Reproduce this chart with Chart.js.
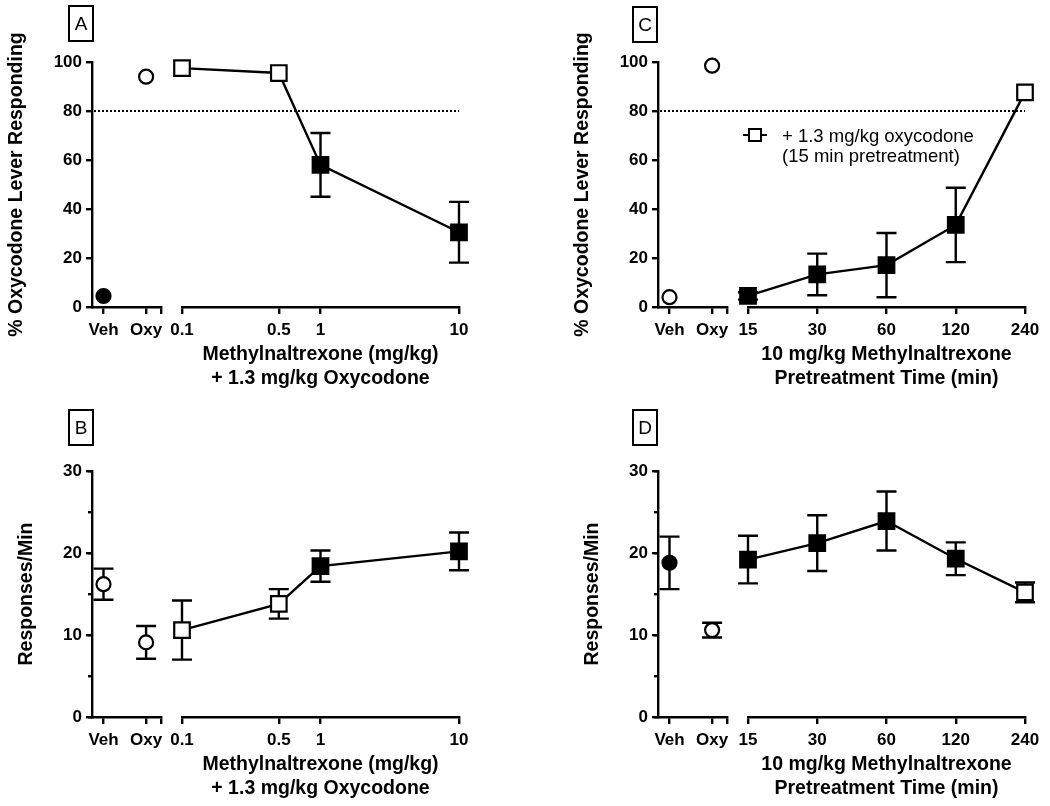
<!DOCTYPE html>
<html>
<head>
<meta charset="utf-8">
<script src="https://cdn.jsdelivr.net/npm/chart.js@4/dist/chart.umd.min.js"></script>
<style>
  body { margin: 0; background: #fff; }
  #wrap { position: relative; width: 1050px; height: 806px; background: #fff; font-family: 'Liberation Sans', Arial, sans-serif; }
  canvas { position: absolute; }
  .tag { position: absolute; box-sizing: border-box; border: 2px solid #000; width: 26px; height: 37px;
         font-size: 19px; line-height: 33px; text-align: center; color: #000; }
  .leg { position: absolute; font-size: 18.5px; line-height: 20px; color: #000; }
</style>
</head>
<body>
<div id="wrap">
  <canvas id="panelA" width="525" height="400" style="left:0;top:0"></canvas>
  <canvas id="panelB" width="525" height="406" style="left:0;top:400px"></canvas>
  <canvas id="panelC" width="484" height="400" style="left:566px;top:0"></canvas>
  <canvas id="panelD" width="484" height="406" style="left:566px;top:400px"></canvas>

  <div class="tag" style="left:68px;top:5px">A</div>
  <div class="tag" style="left:68px;top:409px">B</div>
  <div class="tag" style="left:632px;top:6px">C</div>
  <div class="tag" style="left:632px;top:409px">D</div>

  <div style="position:absolute;left:743px;top:134px;width:24px;height:2px;background:#000"></div>
  <div style="position:absolute;left:748px;top:128px;width:14px;height:14px;box-sizing:border-box;border:2px solid #000;background:#fff"></div>
  <div class="leg" style="left:782px;top:126px">+ 1.3 mg/kg oxycodone<br>(15 min pretreatment)</div>
</div>

<script>
// categories / x values
var controlLabels = ['Veh', 'Oxy'];
var mntxDoses = [0.1, 0.5, 1, 10];          // mg/kg methylnaltrexone
var pretreatTimes = [15, 30, 60, 120, 240]; // min

// A: % oxycodone lever responding, dose
var aCtrlMean = [4.5, 94];
var aCtrlSem = [0, 0];
var aCtrlFilled = [true, false];
var aDoseMean = [97.5, 95.5, 58, 30.5];
var aDoseSem = [0, 0, 13, 12.4];
var aDoseFilled = [false, false, true, true];

// B: responses/min, dose
var bCtrlMean = [16.2, 9.1];
var bCtrlSem = [1.9, 2.0];
var bCtrlFilled = [false, false];
var bDoseMean = [10.6, 13.8, 18.4, 20.2];
var bDoseSem = [3.6, 1.8, 1.9, 2.3];
var bDoseFilled = [false, false, true, true];

// C: % oxycodone lever responding, pretreatment time
var cCtrlMean = [4, 98.5];
var cCtrlSem = [0, 0];
var cCtrlFilled = [false, false];
var cTimeMean = [4.5, 13.3, 17.1, 33.5, 87.6];
var cTimeSem = [1.5, 8.5, 13.1, 15.2, 0];
var cTimeFilled = [true, true, true, true, false];

// D: responses/min, pretreatment time
var dCtrlMean = [18.8, 10.6];
var dCtrlSem = [3.2, 0.9];
var dCtrlFilled = [true, false];
var dTimeMean = [19.2, 21.2, 23.9, 19.3, 15.2];
var dTimeSem = [2.9, 3.4, 3.6, 2.0, 1.2];
var dTimeFilled = [true, true, true, true, false];

var yTitleDisc = '% Oxycodone Lever Responding';
var yTitleRate = 'Responses/Min';
var xTitleDose = ['Methylnaltrexone (mg/kg)', '+ 1.3 mg/kg Oxycodone'];
var xTitleTime = ['10 mg/kg Methylnaltrexone', 'Pretreatment Time (min)'];

Chart.defaults.font.family = "'Liberation Sans', Arial, sans-serif";
Chart.defaults.color = '#000';

// error bars drawn under the markers, through the dataset's scales
var errorBars = {
  id: 'errorBars',
  beforeDatasetsDraw: function(chart) {
    var ctx = chart.ctx;
    chart.data.datasets.forEach(function(ds, di) {
      if (!ds.errors) return;
      var meta = chart.getDatasetMeta(di);
      var yScale = chart.scales[meta.yAxisID];
      ctx.save();
      ctx.strokeStyle = '#000';
      ctx.lineWidth = 2.4;
      meta.data.forEach(function(pt, i) {
        var e = ds.errors[i];
        if (!e) return;
        var v = ds.data[i].y;
        var top = yScale.getPixelForValue(v + e);
        var bot = yScale.getPixelForValue(v - e);
        ctx.beginPath();
        ctx.moveTo(pt.x, top); ctx.lineTo(pt.x, bot);
        ctx.moveTo(pt.x - 10, top); ctx.lineTo(pt.x + 10, top);
        ctx.moveTo(pt.x - 10, bot); ctx.lineTo(pt.x + 10, bot);
        ctx.stroke();
      });
      ctx.restore();
    });
  }
};

var refLine = {
  id: 'refLine',
  beforeDatasetsDraw: function(chart, args, opts) {
    if (opts.value == null) return;
    var ctx = chart.ctx;
    var y = chart.scales.y.getPixelForValue(opts.value);
    ctx.save();
    ctx.strokeStyle = '#000';
    ctx.lineWidth = 2;
    ctx.setLineDash([2, 2]);
    ctx.beginPath();
    ctx.moveTo(chart.chartArea.left + 2, y);
    ctx.lineTo(chart.chartArea.right, y);
    ctx.stroke();
    ctx.restore();
  }
};

function fills(arr) {
  return arr.map(function(f) { return f ? '#000' : '#fff'; });
}

var tickFont = { size: 17, weight: 'bold' };
var titleFont = { size: 19.5, weight: 'bold' };
var axisGrid = { display: true, drawOnChartArea: false, drawTicks: true, tickLength: 7, tickWidth: 2.4, tickColor: '#000', lineWidth: 2.4 };
var axisBorder = { display: true, color: '#000', width: 2.4 };

function buildPanel(id, p) {
  var scales = {
    y: {
      type: 'linear', position: 'left', weight: 1,
      min: 0, max: p.yMax,
      ticks: { stepSize: p.yStep, font: tickFont, color: '#000', padding: 4 },
      grid: Object.assign({}, axisGrid, { tickLength: 6 }),
      border: axisBorder,
      title: { display: true, text: p.yTitle, font: titleFont, color: '#000', padding: { top: 3, bottom: 0 } },
      afterFit: function(s) { s.width = p.yWidth; }
    },
    xl: {
      type: 'linear', position: 'bottom', stack: 'x', stackWeight: 69, weight: 1,
      min: -0.27, max: 1.35,
      afterBuildTicks: function(s) { s.ticks = [0, 1, 1.35].map(function(v) { return { value: v }; }); },
      ticks: { autoSkip: false, maxRotation: 0, minRotation: 0, font: tickFont, color: '#000', padding: 6,
               callback: function(v) { return controlLabels[v] || ''; } },
      grid: axisGrid,
      border: axisBorder,
      afterFit: function(s) { s.height = 85; }
    },
    xg: {
      type: 'linear', position: 'bottom', stack: 'x', stackWeight: 21, weight: 2,
      min: 0, max: 1,
      ticks: { display: false },
      grid: { display: false },
      border: { display: false },
      afterFit: function(s) { s.height = 85; }
    },
    xr: {
      type: 'logarithmic', position: 'bottom', stack: 'x', stackWeight: 277, weight: 3,
      min: p.xVals[0], max: p.xVals[p.xVals.length - 1], bounds: 'data',
      afterBuildTicks: function(s) { s.ticks = p.xVals.map(function(v) { return { value: v }; }); },
      ticks: { autoSkip: false, maxRotation: 0, minRotation: 0, font: tickFont, color: '#000', padding: 6,
               callback: function(v) { return String(v); } },
      grid: axisGrid,
      border: axisBorder,
      title: { display: true, text: p.xTitle, color: '#000',
               font: { size: 19.5, weight: 'bold', lineHeight: '24px' }, padding: { top: 4, bottom: 1 } },
      afterFit: function(s) { s.height = 85; }
    }
  };
  if (p.yMinor) {
    scales.yMinor = {
      type: 'linear', position: 'left', weight: 0,
      min: 0, max: p.yMax,
      ticks: { stepSize: p.yMinor, display: false },
      grid: Object.assign({}, axisGrid, { tickLength: 4 }),
      border: { display: false },
      afterFit: function(s) { s.width = 0; }
    };
  }

  return new Chart(document.getElementById(id), {
    type: 'line',
    data: {
      datasets: [{
        label: 'control',
        xAxisID: 'xl',
        data: controlLabels.map(function(c, i) { return { x: i, y: p.ctrlMean[i] }; }),
        errors: p.ctrlSem,
        showLine: false,
        pointStyle: 'circle',
        pointRadius: 7,
        pointBorderWidth: 2.2,
        pointBorderColor: '#000',
        pointBackgroundColor: fills(p.ctrlFilled),
        clip: false
      }, {
        label: 'treatment',
        xAxisID: 'xr',
        data: p.xVals.map(function(x, i) { return { x: x, y: p.mean[i] }; }),
        errors: p.sem,
        borderColor: '#000',
        borderWidth: 2.4,
        pointStyle: 'rect',
        pointRadius: 11,
        pointBorderWidth: 2.2,
        pointBorderColor: '#000',
        pointBackgroundColor: fills(p.filled),
        clip: false
      }]
    },
    options: {
      responsive: false,
      animation: false,
      events: [],
      layout: { padding: p.padding },
      plugins: {
        legend: { display: false },
        tooltip: { enabled: false },
        refLine: { value: p.refValue }
      },
      scales: scales
    },
    plugins: [errorBars, refLine]
  });
}

buildPanel('panelA', {
  ctrlMean: aCtrlMean, ctrlSem: aCtrlSem, ctrlFilled: aCtrlFilled,
  xVals: mntxDoses, mean: aDoseMean, sem: aDoseSem, filled: aDoseFilled,
  yMax: 100, yStep: 20, yTitle: yTitleDisc, xTitle: xTitleDose, refValue: 80,
  yWidth: 90, padding: { left: 2, top: 62, right: 66, bottom: 8 }
});
buildPanel('panelB', {
  ctrlMean: bCtrlMean, ctrlSem: bCtrlSem, ctrlFilled: bCtrlFilled,
  xVals: mntxDoses, mean: bDoseMean, sem: bDoseSem, filled: bDoseFilled,
  yMax: 30, yStep: 10, yMinor: 5, yTitle: yTitleRate, xTitle: xTitleDose, refValue: null,
  yWidth: 80, padding: { left: 12, top: 71, right: 66, bottom: 4 }
});
buildPanel('panelC', {
  ctrlMean: cCtrlMean, ctrlSem: cCtrlSem, ctrlFilled: cCtrlFilled,
  xVals: pretreatTimes, mean: cTimeMean, sem: cTimeSem, filled: cTimeFilled,
  yMax: 100, yStep: 20, yTitle: yTitleDisc, xTitle: xTitleTime, refValue: 80,
  yWidth: 90, padding: { left: 2, top: 62, right: 25, bottom: 8 }
});
buildPanel('panelD', {
  ctrlMean: dCtrlMean, ctrlSem: dCtrlSem, ctrlFilled: dCtrlFilled,
  xVals: pretreatTimes, mean: dTimeMean, sem: dTimeSem, filled: dTimeFilled,
  yMax: 30, yStep: 10, yMinor: 5, yTitle: yTitleRate, xTitle: xTitleTime, refValue: null,
  yWidth: 80, padding: { left: 12, top: 71, right: 25, bottom: 4 }
});
</script>
</body>
</html>
